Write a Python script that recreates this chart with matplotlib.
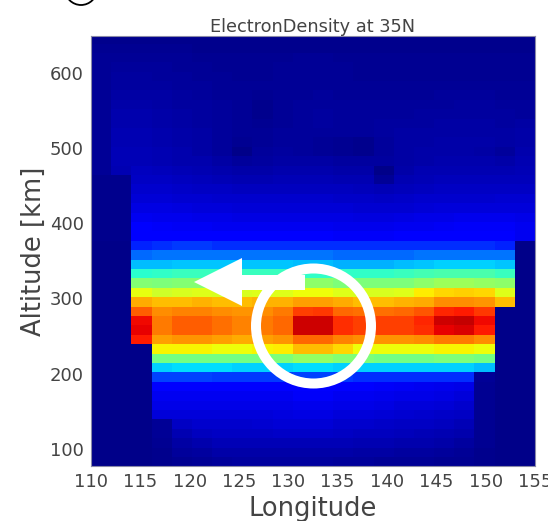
import numpy as np
import matplotlib
matplotlib.use("Agg")
import matplotlib.pyplot as plt
from matplotlib.patches import Circle, Polygon
from matplotlib.transforms import IdentityTransform

# grid of the model output (0-100 on the jet scale)
lon_edges = np.linspace(110, 155, 23)
alt_edges = np.linspace(651, 77, 47)

density = [
    [1.5, 1.5, 1.5, 1.5, 1.5, 1.5, 1.5, 1.5, 1.5, 1.5, 1.5, 1.5, 1.5, 1.5, 1.5, 1.5, 1.5, 1.5, 1.5, 1.5, 1.5, 1.5],
    [1.8, 1.8, 1.8, 1.6, 1.6, 1.5, 1.5, 1.5, 1.5, 1.5, 1.5, 1.5, 1.5, 1.5, 1.5, 1.5, 1.5, 1.5, 1.5, 1.5, 1.5, 1.5],
    [2, 2.2, 2.2, 2, 2, 1.8, 1.6, 1.6, 1.6, 1.8, 2, 2, 1.8, 1.6, 1.6, 1.6, 1.6, 1.6, 1.6, 1.6, 1.6, 1.6],
    [2, 2.6, 2.6, 2.4, 2.2, 2, 1.8, 1.6, 1.8, 2, 2.2, 2.2, 2, 1.8, 1.6, 1.6, 1.6, 1.6, 1.6, 1.6, 1.6, 1.6],
    [2, 2.8, 2.8, 2.6, 2.4, 2.2, 2, 1.8, 1.8, 2, 2.2, 2.2, 2, 1.8, 1.8, 1.8, 1.8, 1.8, 1.8, 1.8, 1.8, 1.8],
    [2, 3, 3, 2.8, 2.6, 2.4, 2.2, 2, 2, 2.2, 2.2, 2.2, 2, 2, 2, 2, 2, 2, 2, 2, 2, 2],
    [2, 3.4, 3.4, 3.2, 2.8, 2.6, 2.2, 2, 1.8, 2, 2.2, 2.4, 2.2, 2.2, 2.2, 2.2, 2.2, 2.4, 2.4, 2.4, 2.2, 2.2],
    [2, 3.8, 3.8, 3.4, 3, 2.8, 2.4, 2, 1.4, 2, 2.4, 2.6, 2.4, 2.4, 2.4, 2.4, 2.4, 2.6, 2.8, 2.8, 2.6, 2.4],
    [2, 4, 4, 3.6, 3.2, 3, 2.6, 2.2, 1.2, 2, 2.6, 2.8, 2.6, 2.6, 2.6, 2.6, 2.8, 3, 3, 3, 2.8, 2.6],
    [2, 4.2, 4.2, 3.8, 3.4, 3, 2.6, 2.2, 1.8, 2.2, 2.6, 2.8, 2.6, 2.6, 2.8, 3, 3, 3.2, 3.2, 3.2, 3, 3.2],
    [2, 4.4, 4.4, 4, 3.6, 3.2, 2.6, 2.2, 2.2, 2.4, 2.4, 2.4, 2.4, 2.4, 2.8, 3.2, 3.2, 3.4, 3.4, 3.4, 3.2, 3.6],
    [2, 4.6, 4.6, 4.2, 3.8, 3.2, 2.4, 1.6, 2.2, 2.6, 2.4, 2.2, 1.6, 1.4, 2.4, 3.2, 3.4, 3.6, 3.6, 3.6, 3.2, 3.8],
    [2, 4.8, 4.8, 4.4, 4, 3.4, 2.4, 0.8, 2.4, 2.8, 2.6, 2.2, 1.6, 1.2, 2.4, 3.2, 3.6, 3.8, 3.6, 3.2, 2.6, 4],
    [2, 5, 5, 4.6, 4.2, 4, 3.4, 2.6, 3, 3.2, 3.2, 3.2, 3, 2.8, 2.8, 3.4, 3.8, 4, 4, 4, 3.8, 4.4],
    [2, 4.6, 5.6, 5.2, 4.8, 4.6, 4.2, 3.6, 3.8, 4, 4, 4, 3.8, 3.6, 1, 3.8, 4.4, 4.6, 4.6, 4.6, 4.6, 4.8],
    [1.5, 1.5, 6.2, 6, 5.6, 5.4, 5, 4.6, 4.6, 4.8, 4.8, 4.8, 4.6, 4.4, 2, 4.6, 5, 5.2, 5.2, 5.2, 5.4, 5.4],
    [1.5, 1.5, 7, 6.8, 6.4, 6.2, 6, 5.6, 5.6, 5.8, 5.8, 5.8, 5.6, 5.4, 5, 5.4, 5.8, 6, 6, 6, 6.2, 6.2],
    [1.5, 1.5, 7.8, 7.6, 7.4, 7.2, 7, 6.8, 6.8, 6.8, 6.8, 6.8, 6.6, 6.4, 6.2, 6.4, 6.8, 7, 7, 7, 7.2, 7.2],
    [1.5, 1.5, 8.8, 8.6, 8.4, 8.2, 8, 7.8, 7.8, 7.8, 7.8, 7.8, 7.6, 7.4, 7.2, 7.4, 7.8, 8, 8.2, 8.2, 8.2, 8],
    [1.5, 1.5, 10, 9.6, 9.4, 9.2, 9, 8.8, 8.8, 8.8, 8.8, 8.8, 8.6, 8.4, 8.4, 8.6, 9, 9.2, 9.4, 9.4, 9.4, 9],
    [1.5, 1.5, 11, 10.6, 10.4, 10.2, 10, 9.8, 9.8, 9.8, 9.8, 9.8, 9.6, 9.4, 9.4, 9.8, 10, 10.2, 10.6, 10.6, 10.6, 10],
    [1.5, 1.5, 12, 12, 12, 11.6, 11.4, 11, 11, 11, 11, 11, 10.8, 10.6, 10.6, 11, 11.4, 11.6, 12, 12, 12, 10],
    [1, 1, 16, 17, 18, 18, 17, 17, 17, 17, 17, 17, 17, 17, 17, 17, 17, 17, 17, 17, 16, 1],
    [1, 1, 23, 24, 24, 24, 24, 24, 24, 24, 24, 24, 23, 23, 23, 23, 24, 24, 24, 24, 24, 1],
    [1, 1, 31, 31, 32, 32, 32, 32, 32, 32, 31, 31, 30, 30, 30, 31, 32, 33, 33, 33, 32, 1],
    [1, 1, 40, 41, 42, 42, 42, 42, 42, 42, 41, 41, 41, 41, 41, 42, 43, 44, 44, 44, 42, 1],
    [1, 1, 51, 50, 51, 51, 50, 50, 50, 50, 52, 52, 50, 50, 50, 50, 52, 54, 54, 53, 52, 1],
    [1, 1, 63, 60, 61, 62, 61, 61, 62, 62, 64, 64, 62, 61, 61, 62, 66, 68, 69, 68, 62, 1],
    [1, 1, 73, 71, 71, 72, 71, 71, 72, 72, 74, 74, 73, 71, 71, 72, 73, 76, 76, 75, 71, 1],
    [1, 1, 81, 76, 77, 77, 76, 75, 76, 78, 84, 85, 80, 79, 79, 80, 82, 87, 88, 85, 1, 1],
    [1, 1, 90, 78, 81, 81, 79, 77, 78, 80, 93, 93, 86, 84, 84, 84, 87, 93, 94, 90, 1, 1],
    [1, 1, 91, 78, 81, 81, 79, 77, 78, 80, 93, 93, 86, 84, 84, 84, 86, 91, 92, 88, 1, 1],
    [1, 1, 88, 74, 75, 75, 74, 73, 74, 75, 80, 80, 77, 76, 75, 75, 76, 78, 78, 76, 1, 1],
    [1, 1, 1, 65, 65, 65, 64, 64, 65, 66, 71, 71, 68, 64, 64, 64, 64, 65, 65, 64, 1, 1],
    [1, 1, 1, 49, 49, 49, 49, 49, 49, 50, 53, 53, 51, 50, 49, 49, 49, 50, 50, 49, 1, 1],
    [1, 1, 1, 33, 34, 34, 34, 33, 33, 33, 34, 34, 33, 33, 33, 33, 33, 33, 33, 31, 1, 1],
    [1, 1, 1, 19, 19, 19, 18, 18, 18, 18, 19, 19, 18, 17, 17, 17, 17, 17, 17, 2, 1, 1],
    [1, 1, 1, 11, 11, 11, 11, 11, 11, 11, 11.6, 11.6, 11, 11, 10.6, 10.2, 10, 9.6, 9, 1.6, 1, 1],
    [1, 1, 1, 10, 10, 10, 10, 10, 10, 10, 10.6, 10.6, 10, 10, 9.6, 9.2, 9, 8.6, 8, 1.6, 1, 1],
    [1, 1, 1, 9, 9, 9, 9, 9, 9, 9.2, 9.6, 9.6, 9, 9, 8.6, 8.2, 8, 7.6, 7, 1.6, 1, 1],
    [1, 1, 1, 8, 8, 8, 8, 8, 8, 8.4, 8.6, 8.6, 8, 8, 7.6, 7.2, 7, 6.6, 6, 1.6, 1, 1],
    [1, 1, 1, 2, 6, 7, 7, 7, 7.4, 7.6, 7.6, 7.6, 7, 7, 6.6, 6.2, 6, 5.6, 5, 1.6, 1, 1],
    [1, 1, 1, 2, 4.4, 5.6, 6, 6, 6.2, 6.4, 6.4, 6.4, 6, 5.8, 5.6, 5.2, 5, 4.6, 4, 1.6, 1, 1],
    [1, 1, 1, 1.6, 3.2, 4.2, 4.8, 5, 5, 5, 5, 5, 4.8, 4.6, 4.4, 4.2, 4, 3.6, 3, 1.6, 1, 1],
    [1, 1, 1, 1.4, 2.4, 3, 3.6, 3.8, 3.8, 3.8, 3.8, 3.8, 3.6, 3.4, 3.2, 3, 2.8, 2.6, 2.2, 1.4, 1, 1],
    [1, 1, 1, 1.2, 1.8, 2.2, 2.6, 2.8, 2.8, 2.8, 2.8, 2.8, 2.6, 2.4, 2.2, 2, 2, 1.8, 1.6, 1.2, 1, 1],
]

lon_ticks = [110, 115, 120, 125, 130, 135, 140, 145, 150, 155]
alt_ticks = [100, 200, 300, 400, 500, 600]

W, H = 548, 521
TEXT = "#444444"

fig = plt.figure(figsize=(W / 100, H / 100), dpi=100)
ax = fig.add_axes([91 / W, (H - 466) / H, 444 / W, 430 / H])

ax.pcolormesh(lon_edges, alt_edges, np.array(density), cmap="jet", vmin=0, vmax=100)
ax.set_xlim(110, 155)
ax.set_ylim(77.4, 648.5)
ax.set_xticks(lon_ticks)
ax.set_yticks(alt_ticks)
ax.tick_params(labelsize=13, colors=TEXT, length=0, pad=5)
for s in ax.spines.values():
    s.set_color("#8a8aa8")
    s.set_linewidth(0.8)

ax.set_title("ElectronDensity at 35N", fontsize=12.8, color=TEXT, pad=3)
ax.set_xlabel("Longitude", fontsize=18.5, color=TEXT, labelpad=4)
ax.set_ylabel("Altitude [km]", fontsize=18.5, color=TEXT, labelpad=2)

# overlays drawn on the slide, in image pixels (y flipped)
px = IdentityTransform()
fig.add_artist(Circle((313.5, H - 326), 57.5, fill=False, ec="white", lw=7.2, transform=px))
arrow = [(194, 282), (242, 258), (242, 275), (305, 275), (305, 290), (242, 290), (242, 306)]
fig.add_artist(Polygon([(x, H - y) for x, y in arrow], closed=True, fc="white", ec="none", transform=px))
# cropped circled number from the slide above
fig.add_artist(Circle((81, H + 11), 16, fill=False, ec="black", lw=1.3, transform=px))

fig.savefig("out.png", dpi=100)
